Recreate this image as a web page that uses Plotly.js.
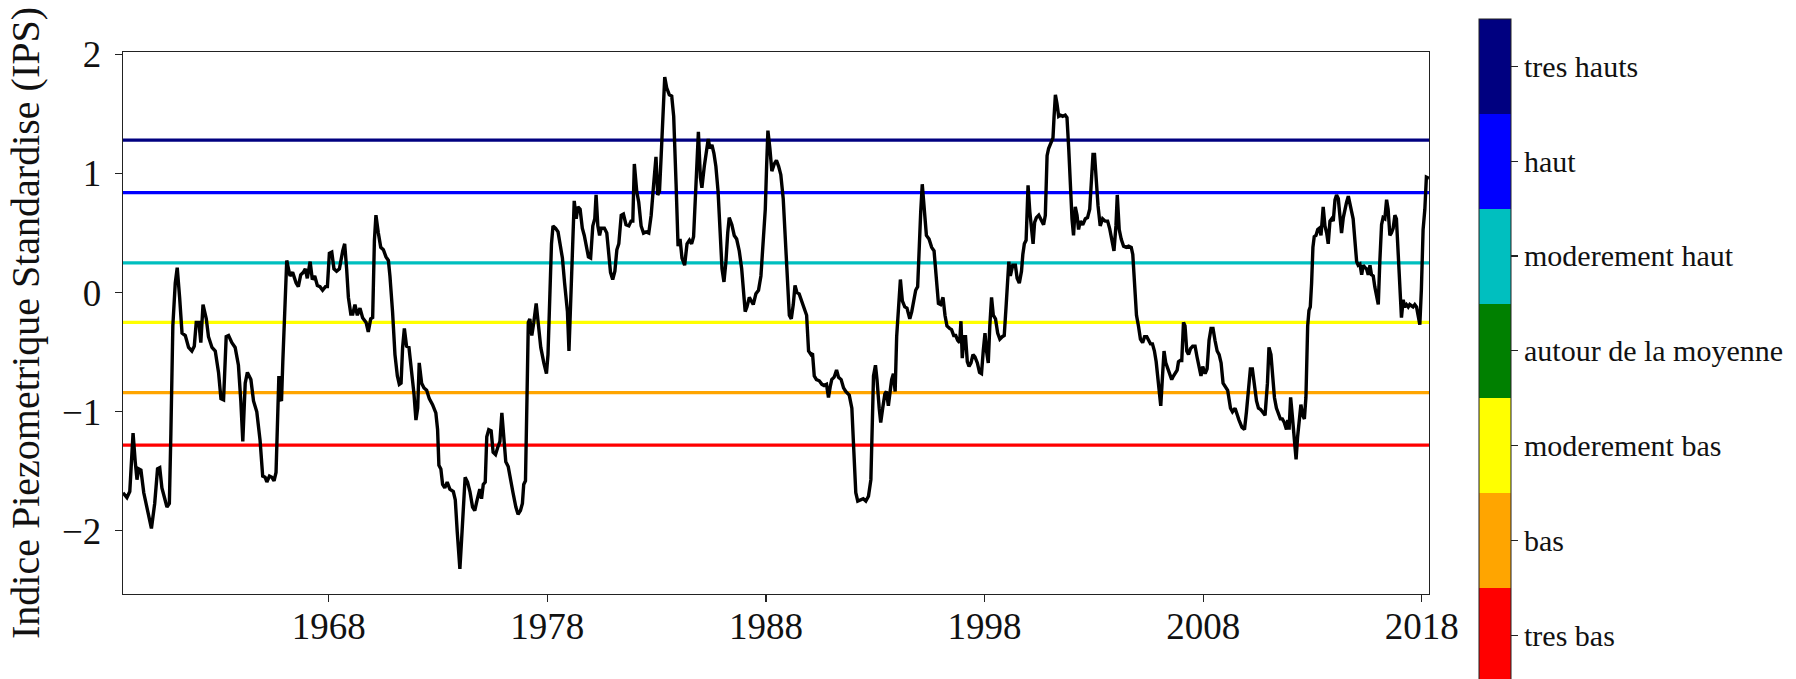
<!DOCTYPE html>
<html>
<head>
<meta charset="utf-8">
<script src="https://cdn.plot.ly/plotly-3.0.1.min.js"></script>
<style>
  html, body { margin: 0; padding: 0; background: #ffffff; }
  #chart { width: 1796px; height: 679px; }
</style>
</head>
<body>
<div id="chart"></div>
<script>
// ---- Data ----
var years = [
  1958.59,1958.77,1958.90,1959.05,1959.15,1959.23,1959.31,1959.41,1959.54,1959.69,1959.89,1960.04,1960.17,1960.27,1960.37,1960.60,1960.71,1960.78,1960.87,1960.98,
  1961.07,1961.18,1961.29,1961.44,1961.59,1961.74,1961.85,1961.94,1962.06,1962.15,1962.25,1962.40,1962.50,1962.66,1962.81,1962.96,1963.07,1963.19,1963.31,1963.42,
  1963.57,1963.72,1963.87,1963.98,1964.07,1964.18,1964.28,1964.44,1964.56,1964.71,1964.86,1964.98,1965.09,1965.17,1965.29,1965.40,1965.50,1965.59,1965.65,1965.72,
  1965.78,1965.84,1965.90,1966.00,1966.08,1966.16,1966.23,1966.35,1966.51,1966.61,1966.72,1966.84,1966.93,1967.02,1967.15,1967.25,1967.36,1967.48,1967.60,1967.72,
  1967.85,1967.94,1968.03,1968.14,1968.24,1968.36,1968.49,
  1968.64,1968.73,1968.82,1968.90,1969.01,1969.10,1969.20,1969.31,1969.43,1969.55,1969.71,1969.81,1969.92,1970.01,1970.09,1970.16,1970.27,1970.38,1970.50,1970.62,
  1970.73,1970.80,1970.92,1971.03,1971.14,1971.23,1971.31,1971.38,1971.46,1971.56,1971.67,1971.79,1971.90,1971.99,1972.07,1972.14,1972.25,1972.36,1972.48,1972.60,
  1972.75,1972.90,1972.98,1973.04,1973.13,1973.21,1973.31,1973.42,1973.54,1973.70,1973.79,1973.88,1974.00,1974.08,1974.15,1974.24,1974.35,1974.46,1974.58,1974.68,
  1974.79,1974.91,1974.99,1975.07,1975.16,1975.23,1975.32,1975.43,1975.52,1975.63,1975.73,1975.83,1975.92,1976.01,1976.10,1976.21,1976.31,1976.43,1976.56,1976.66,
  1976.77,1976.86,1976.92,1977.00,1977.07,1977.13,1977.20,1977.29,1977.38,1977.49,1977.58,1977.70,1977.84,1977.96,1978.03,1978.11,1978.19,1978.26,1978.38,1978.49,
  1978.60,1978.69,1978.79,1978.92,1978.99,
  1979.06,1979.14,1979.23,1979.32,1979.40,1979.50,1979.60,1979.69,1979.78,1979.88,1979.98,1980.08,1980.17,1980.23,1980.31,1980.39,1980.46,1980.61,1980.72,1980.81,
  1980.89,1980.99,1981.09,1981.18,1981.27,1981.38,1981.48,1981.60,1981.73,1981.83,1981.91,1981.98,1982.09,1982.18,1982.29,1982.40,1982.52,1982.64,1982.75,1982.85,
  1982.97,1983.05,1983.13,1983.20,1983.28,1983.37,1983.46,1983.58,1983.69,1983.78,1983.89,1983.98,1984.07,1984.16,1984.28,1984.39,1984.50,1984.60,1984.69,1984.80,
  1984.91,1985.00,1985.07,1985.18,1985.26,1985.36,1985.44,1985.53,1985.62,1985.71,1985.81,1985.90,1985.99,1986.08,1986.17,1986.25,1986.32,1986.44,1986.55,1986.66,
  1986.78,1986.89,1986.98,1987.05,1987.13,1987.24,1987.33,1987.42,1987.54,1987.66,1987.77,1987.88,1987.97,1988.03,1988.09,1988.18,1988.27,1988.38,1988.48,1988.58,
  1988.68,1988.79,1988.88,
  1988.99,1989.07,1989.16,1989.25,1989.33,1989.42,1989.52,1989.63,1989.75,1989.86,1989.95,1990.06,1990.13,1990.21,1990.31,1990.44,1990.56,1990.66,1990.77,1990.86,
  1990.94,1991.01,1991.12,1991.23,1991.32,1991.44,1991.55,1991.65,1991.81,1991.93,1992.02,1992.11,1992.20,1992.34,1992.45,1992.57,1992.69,1992.80,1992.86,1992.92,
  1993.01,1993.08,1993.18,1993.25,1993.34,1993.44,1993.51,1993.60,1993.68,1993.75,1993.83,1993.91,1993.98,1994.06,1994.15,1994.24,1994.35,1994.45,1994.58,1994.67,
  1994.76,1994.85,1994.94,1995.00,1995.08,1995.15,1995.25,1995.34,1995.46,1995.58,1995.69,1995.79,1995.89,1995.99,1996.10,1996.19,1996.28,1996.40,1996.49,1996.59,
  1996.68,1996.77,1996.86,1996.92,1996.98,1997.06,1997.13,1997.21,1997.29,1997.38,1997.47,1997.56,1997.67,1997.77,1997.86,1997.94,1998.02,1998.09,1998.17,1998.24,
  1998.32,1998.40,1998.50,1998.60,1998.70,1998.81,1998.90,1998.99,1999.08,
  1999.11,1999.18,1999.29,1999.41,1999.49,1999.59,1999.69,1999.75,1999.82,1999.90,1999.99,2000.07,2000.14,2000.22,2000.29,2000.37,2000.48,2000.60,2000.70,2000.78,
  2000.86,2000.93,2001.04,2001.13,2001.18,2001.24,2001.31,2001.39,2001.48,2001.57,2001.69,2001.77,2001.85,2001.92,2002.00,2002.07,2002.15,2002.23,2002.30,2002.38,
  2002.49,2002.61,2002.71,2002.81,2002.88,2002.96,2003.03,2003.11,2003.19,2003.29,2003.40,2003.52,2003.63,2003.72,2003.83,2003.92,2004.01,2004.07,2004.16,2004.25,
  2004.36,2004.48,2004.59,2004.71,2004.78,2004.86,2004.95,2005.04,2005.13,2005.23,2005.32,2005.42,2005.50,2005.59,2005.68,2005.77,2005.85,2005.93,2006.00,2006.06,
  2006.14,2006.21,2006.29,2006.38,2006.49,2006.56,2006.64,2006.72,2006.81,2006.87,2006.95,2007.02,2007.10,2007.17,2007.25,2007.33,2007.42,2007.52,2007.63,2007.72,
  2007.81,2007.90,2007.98,2008.09,2008.18,2008.27,2008.36,2008.45,2008.54,2008.64,2008.73,2008.82,2008.91,2009.00,2009.12,
  2009.25,2009.34,2009.46,2009.55,2009.64,2009.77,2009.89,2009.98,2010.07,2010.16,2010.25,2010.34,2010.44,2010.53,2010.62,2010.71,2010.83,2010.94,2011.01,2011.10,
  2011.18,2011.26,2011.35,2011.44,2011.53,2011.62,2011.71,2011.81,2011.87,2011.93,2012.00,2012.08,2012.17,2012.25,2012.32,2012.40,2012.47,2012.55,2012.63,2012.70,
  2012.78,2012.84,2012.90,2012.96,2013.02,2013.08,2013.16,2013.24,2013.31,2013.39,2013.49,2013.57,2013.65,2013.72,2013.80,2013.88,2013.95,2014.03,2014.10,2014.18,
  2014.26,2014.33,2014.41,2014.48,2014.56,2014.64,2014.71,2014.79,2014.86,2014.94,2015.02,2015.09,2015.17,2015.25,2015.32,2015.40,2015.47,2015.55,2015.63,2015.70,
  2015.78,2015.85,2015.93,2016.01,2016.08,2016.16,2016.23,2016.31,2016.39,2016.46,2016.54,2016.61,2016.69,2016.77,2016.84,2016.92,2016.99,2017.07,2017.15,2017.22,
  2017.30,2017.38,2017.45,2017.53,2017.60,2017.68,2017.76,2017.83,2017.91,2017.98,2018.06,2018.14,2018.21,2018.33
];
var ips = [
  -1.68,-1.72,-1.67,-1.18,-1.42,-1.57,-1.48,-1.49,-1.68,-1.80,-1.98,-1.77,-1.48,-1.47,-1.64,-1.80,-1.77,-1.18,-0.28,0.08,
  0.21,-0.04,-0.34,-0.36,-0.46,-0.49,-0.45,-0.25,-0.25,-0.42,-0.10,-0.22,-0.37,-0.46,-0.49,-0.67,-0.89,-0.90,-0.37,-0.36,
  -0.42,-0.46,-0.61,-0.91,-1.25,-0.76,-0.67,-0.73,-0.91,-1.00,-1.24,-1.54,-1.55,-1.59,-1.54,-1.55,-1.58,-1.51,-1.12,-0.70,
  -0.89,-0.91,-0.58,0.02,0.27,0.20,0.14,0.17,0.08,0.05,0.15,0.17,0.20,0.12,0.26,0.11,0.14,0.06,0.05,0.02,
  0.05,0.05,0.33,0.34,0.20,0.18,0.20,
  0.35,0.41,0.20,-0.04,-0.18,-0.18,-0.10,-0.19,-0.13,-0.21,-0.25,-0.33,-0.22,-0.21,0.44,0.65,0.50,0.38,0.36,0.30,
  0.27,0.14,-0.16,-0.52,-0.70,-0.77,-0.76,-0.46,-0.30,-0.45,-0.46,-0.64,-0.85,-1.07,-0.97,-0.59,-0.76,-0.80,-0.82,-0.89,
  -0.94,-1.01,-1.15,-1.45,-1.48,-1.61,-1.64,-1.59,-1.65,-1.67,-1.74,-2.01,-2.32,-2.07,-1.77,-1.55,-1.59,-1.67,-1.80,-1.83,
  -1.74,-1.65,-1.73,-1.61,-1.59,-1.21,-1.15,-1.16,-1.34,-1.36,-1.30,-1.25,-1.01,-1.21,-1.42,-1.46,-1.57,-1.68,-1.80,-1.86,
  -1.83,-1.77,-1.61,-1.58,-0.88,-0.25,-0.22,-0.36,-0.25,-0.09,-0.25,-0.46,-0.59,-0.68,-0.52,0.02,0.41,0.56,0.54,0.51,
  0.38,0.29,0.08,-0.16,-0.49,
  -0.13,0.32,0.77,0.62,0.72,0.70,0.54,0.48,0.38,0.30,0.29,0.56,0.62,0.82,0.56,0.48,0.54,0.54,0.50,0.35,
  0.17,0.11,0.18,0.36,0.41,0.65,0.66,0.57,0.56,0.60,0.60,1.08,0.85,0.76,0.56,0.50,0.51,0.50,0.65,0.88,
  1.14,0.82,0.85,1.12,1.54,1.81,1.72,1.66,1.65,1.48,0.91,0.39,0.45,0.29,0.23,0.41,0.44,0.41,0.47,0.85,
  1.35,0.97,0.88,1.06,1.15,1.29,1.21,1.24,1.17,1.06,0.85,0.50,0.20,0.09,0.26,0.50,0.63,0.57,0.48,0.45,
  0.35,0.20,0.02,-0.16,-0.12,-0.04,-0.07,-0.10,-0.01,0.02,0.14,0.44,0.70,1.06,1.36,1.21,1.02,1.08,1.11,1.06,
  0.99,0.79,0.44,
  0.08,-0.19,-0.22,-0.10,0.06,0.00,-0.01,-0.07,-0.12,-0.19,-0.49,-0.52,-0.51,-0.70,-0.73,-0.74,-0.77,-0.78,-0.77,-0.88,
  -0.79,-0.73,-0.71,-0.65,-0.71,-0.73,-0.80,-0.83,-0.86,-0.97,-1.33,-1.68,-1.75,-1.74,-1.73,-1.75,-1.71,-1.57,-1.18,-0.70,
  -0.61,-0.73,-0.97,-1.09,-0.97,-0.85,-0.83,-0.95,-0.83,-0.73,-0.68,-0.83,-0.37,-0.10,0.11,-0.07,-0.12,-0.13,-0.22,-0.16,
  -0.07,0.02,0.05,0.38,0.68,0.91,0.70,0.48,0.45,0.38,0.35,0.14,-0.09,-0.10,-0.04,-0.19,-0.28,-0.30,-0.31,-0.36,
  -0.36,-0.40,-0.42,-0.24,-0.55,-0.37,-0.37,-0.58,-0.62,-0.59,-0.52,-0.54,-0.59,-0.67,-0.68,-0.49,-0.34,-0.49,-0.59,-0.28,
  -0.04,-0.19,-0.22,-0.34,-0.39,-0.37,-0.36,-0.10,0.20,
  0.26,0.14,0.23,0.23,0.12,0.08,0.18,0.32,0.41,0.44,0.90,0.68,0.53,0.41,0.59,0.63,0.65,0.60,0.57,0.65,
  1.15,1.21,1.26,1.30,1.48,1.66,1.59,1.48,1.49,1.48,1.49,1.47,1.21,0.85,0.62,0.48,0.72,0.65,0.53,0.60,
  0.57,0.62,0.63,0.70,0.94,1.16,1.16,0.91,0.73,0.56,0.62,0.60,0.60,0.54,0.44,0.35,0.56,0.82,0.53,0.45,
  0.39,0.38,0.39,0.38,0.32,0.08,-0.19,-0.28,-0.39,-0.42,-0.37,-0.37,-0.40,-0.43,-0.43,-0.49,-0.58,-0.73,-0.91,-0.95,
  -0.70,-0.49,-0.59,-0.64,-0.68,-0.73,-0.70,-0.67,-0.65,-0.58,-0.57,-0.57,-0.25,-0.28,-0.49,-0.52,-0.47,-0.45,-0.45,-0.54,
  -0.64,-0.70,-0.62,-0.68,-0.64,-0.40,-0.30,-0.30,-0.40,-0.49,-0.52,-0.59,-0.76,-0.79,-0.82,
  -0.97,-1.00,-0.97,-1.03,-1.07,-1.13,-1.15,-1.00,-0.82,-0.64,-0.64,-0.80,-0.91,-0.97,-0.98,-1.00,-1.03,-0.76,-0.46,-0.52,
  -0.70,-0.88,-0.97,-1.01,-1.06,-1.06,-1.09,-1.15,-1.07,-1.15,-0.88,-1.04,-1.27,-1.40,-1.21,-1.06,-0.94,-1.03,-1.06,-0.88,
  -0.28,-0.15,-0.12,0.08,0.38,0.47,0.48,0.53,0.54,0.48,0.72,0.56,0.50,0.41,0.60,0.62,0.60,0.78,0.82,0.79,
  0.65,0.50,0.63,0.70,0.76,0.81,0.76,0.68,0.62,0.44,0.26,0.23,0.24,0.15,0.23,0.21,0.20,0.15,0.23,0.15,
  0.14,0.05,-0.03,-0.10,0.26,0.57,0.63,0.62,0.78,0.70,0.48,0.50,0.54,0.65,0.62,0.29,0.02,-0.21,-0.06,-0.12,
  -0.10,-0.12,-0.10,-0.11,-0.12,-0.10,-0.12,-0.19,-0.27,0.02,0.53,0.70,0.97,0.96
];

// Class thresholds (horizontal lines) and their colours, top to bottom
var thresholds = [1.28, 0.84, 0.25, -0.25, -0.84, -1.28];
var thresholdColors = ['#000080', '#0000ff', '#00bfbf', '#ffff00', '#ffa500', '#ff0000'];

// Colour bar classes, bottom to top
var classLabels = ['tres bas', 'bas', 'moderement bas', 'autour de la moyenne', 'moderement haut', 'haut', 'tres hauts'];
var classColors = ['#ff0000', '#ffa500', '#ffff00', '#008000', '#00bfbf', '#0000ff', '#000080'];

var xTicks = [1968, 1978, 1988, 1998, 2008, 2018];
var yTicks = [-2, -1, 0, 1, 2];
var yTitle = 'Indice Piezometrique Standardise (IPS)';

// ---- Build chart ----
var FONT = 'Liberation Serif, Times New Roman, serif';
var n = classLabels.length;
var colorscale = [];
var classIdx = [];
for (var i = 0; i < n; i++) {
  colorscale.push([i / n, classColors[i]]);
  colorscale.push([(i + 1) / n, classColors[i]]);
  classIdx.push(i + 0.5);
}

var plotL = 123, plotR = 1431.3, plotT = 51.5, plotB = 594;
var W = 1796, H = 679;

var seriesTrace = {
  type: 'scatter', mode: 'lines',
  x: years, y: ips,
  line: { color: '#000000', width: 3.4 },
  hoverinfo: 'x+y', showlegend: false
};

var scaleTrace = {
  type: 'scatter', mode: 'markers',
  x: [years[0]], y: [null],
  showlegend: false, hoverinfo: 'skip',
  marker: {
    color: [0], cmin: 0, cmax: n, colorscale: colorscale, showscale: true,
    colorbar: {
      x: (1481 - plotL) / (plotR - plotL), xanchor: 'left', xpad: 0,
      y: (plotB - 18.3) / (plotB - plotT), yanchor: 'top', ypad: 0,
      lenmode: 'pixels', len: 664,
      thickness: 32, thicknessmode: 'pixels',
      outlinewidth: 1, outlinecolor: '#222',
      tickmode: 'array', tickvals: classIdx, ticktext: classLabels,
      ticks: 'outside', ticklen: 7, tickwidth: 1.2, tickcolor: '#222',
      tickfont: { family: FONT, size: 30, color: '#111' },
      borderwidth: 0
    }
  }
};

var shapes = thresholds.map(function (t, k) {
  return {
    type: 'line', xref: 'paper', x0: 0, x1: 1, yref: 'y', y0: t, y1: t,
    line: { color: thresholdColors[k], width: 3.2 }, layer: 'below'
  };
});

var axisCommon = {
  showgrid: false, zeroline: false,
  showline: true, mirror: true, linecolor: '#222', linewidth: 1.3,
  ticks: 'outside', ticklen: 7, tickwidth: 1.2, tickcolor: '#222',
  tickfont: { family: FONT, size: 37, color: '#111' },
  automargin: false
};

var layout = {
  width: W, height: H,
  paper_bgcolor: '#ffffff', plot_bgcolor: '#ffffff',
  margin: { l: plotL, r: W - plotR, t: plotT, b: H - plotB, pad: 0 },
  showlegend: false,
  font: { family: FONT, color: '#111' },
  xaxis: Object.assign({}, axisCommon, {
    type: 'linear', range: [1958.59, 2018.33],
    tickmode: 'array', tickvals: xTicks, ticktext: xTicks.map(String),
    ticklabelstandoff: -8
  }),
  yaxis: Object.assign({}, axisCommon, {
    range: [-2.53, 2.02], tickmode: 'array', tickvals: yTicks,
    ticklabelstandoff: 6,
    title: { text: yTitle, font: { family: FONT, size: 40, color: '#111' }, standoff: 10 }
  }),
  shapes: shapes
};

Plotly.newPlot('chart', [seriesTrace, scaleTrace], layout, { staticPlot: true, displayModeBar: false });
</script>
</body>
</html>
